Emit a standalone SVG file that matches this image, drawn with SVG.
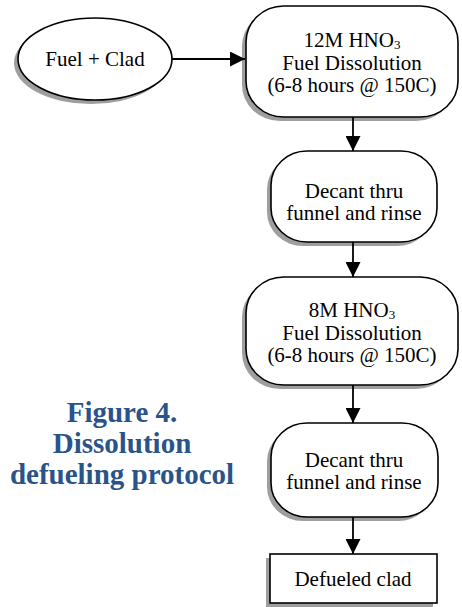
<svg xmlns="http://www.w3.org/2000/svg" width="462" height="607" viewBox="0 0 462 607">
<style>
  .shape { fill: #ffffff; stroke: #000000; stroke-width: 1.6; }
  .shadow { fill: #9e9e9e; stroke: none; }
  .lbl { font-family: "Liberation Serif", "Times New Roman", serif; font-size: 21px; fill: #000000; text-anchor: middle; }
  .sub { font-size: 13px; }
  .title { font-family: "Liberation Serif", "Times New Roman", serif; font-size: 29px; font-weight: bold; fill: #2a5389; text-anchor: middle; }
  .conn { stroke: #000000; stroke-width: 1.8; fill: none; }
</style>
<defs>
  <marker id="arrow" markerUnits="userSpaceOnUse" markerWidth="15" markerHeight="15" refX="15" refY="7.5" orient="auto">
    <path d="M0,0 L15,7.5 L0,15 z" fill="#000000"/>
  </marker>
</defs>
<rect width="462" height="607" fill="#ffffff"/>

<g id="node-fuel-clad">
  <ellipse class="shadow" cx="91" cy="63" rx="77" ry="41"/>
  <ellipse class="shape" cx="95" cy="59" rx="77" ry="41"/>
  <text class="lbl" x="95" y="66">Fuel + Clad</text>
</g>

<g id="node-12m">
  <rect class="shadow" x="242" y="10" width="212" height="111" rx="38" ry="36"/>
  <rect class="shape" x="246" y="6" width="212" height="111" rx="38" ry="36"/>
  <text class="lbl" x="352" y="47">12M HNO<tspan class="sub" dy="2">3</tspan></text>
  <text class="lbl" x="352" y="70">Fuel Dissolution</text>
  <text class="lbl" x="352" y="92">(6-8 hours @ 150C)</text>
</g>

<g id="node-decant1">
  <rect class="shadow" x="267" y="155" width="166" height="91" rx="36" ry="34"/>
  <rect class="shape" x="271" y="151" width="166" height="91" rx="36" ry="34"/>
  <text class="lbl" x="354" y="198">Decant thru</text>
  <text class="lbl" x="354" y="220">funnel and rinse</text>
</g>

<g id="node-8m">
  <rect class="shadow" x="242" y="281" width="212" height="108" rx="38" ry="36"/>
  <rect class="shape" x="246" y="277" width="212" height="108" rx="38" ry="36"/>
  <text class="lbl" x="352" y="317">8M HNO<tspan class="sub" dy="2">3</tspan></text>
  <text class="lbl" x="352" y="340">Fuel Dissolution</text>
  <text class="lbl" x="352" y="362">(6-8 hours @ 150C)</text>
</g>

<g id="node-decant2">
  <rect class="shadow" x="267" y="427" width="167" height="94" rx="36" ry="34"/>
  <rect class="shape" x="271" y="423" width="167" height="94" rx="36" ry="34"/>
  <text class="lbl" x="354" y="467">Decant thru</text>
  <text class="lbl" x="354" y="489">funnel and rinse</text>
</g>

<g id="node-defueled">
  <rect class="shadow" x="266" y="558" width="167" height="49"/>
  <rect class="shape" x="270" y="554" width="167" height="49"/>
  <text class="lbl" x="353" y="586">Defueled clad</text>
</g>

<g id="title">
  <text class="title" x="122" y="422">Figure 4.</text>
  <text class="title" x="122" y="453">Dissolution</text>
  <text class="title" x="122" y="484">defueling protocol</text>
</g>

<g id="connectors">
  <line class="conn" x1="172" y1="59" x2="245" y2="59" marker-end="url(#arrow)"/>
  <line class="conn" x1="353" y1="117" x2="353" y2="151" marker-end="url(#arrow)"/>
  <line class="conn" x1="353" y1="242" x2="353" y2="277" marker-end="url(#arrow)"/>
  <line class="conn" x1="353" y1="385" x2="353" y2="423" marker-end="url(#arrow)"/>
  <line class="conn" x1="353" y1="517" x2="353" y2="554" marker-end="url(#arrow)"/>
</g>
</svg>
